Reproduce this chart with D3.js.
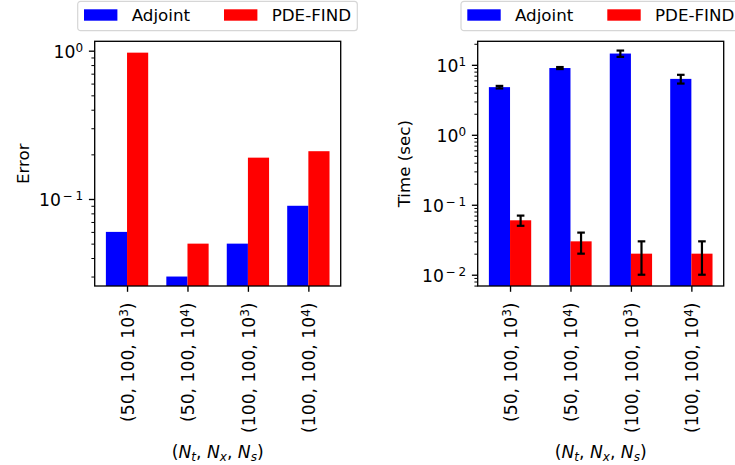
<!DOCTYPE html>
<html>
<head>
<meta charset="utf-8">
<script src="https://cdn.jsdelivr.net/npm/d3@7"></script>
<style>
  body { margin: 0; background: #fff; }
  text { font-family: "DejaVu Sans", sans-serif; fill: #000; }
</style>
</head>
<body>
<svg id="chart" width="735" height="465"></svg>
<script>
// values
var categories = ["(50, 100, 10^3)", "(50, 100, 10^4)", "(100, 100, 10^3)", "(100, 100, 10^4)"];
var seriesNames = ["Adjoint", "PDE-FIND"];
var seriesColors = ["#0000ff", "#ff0000"];
var errorAdjoint = [0.06, 0.03, 0.05, 0.09];
var errorPdeFind = [0.97, 0.05, 0.19, 0.21];
var timeAdjoint = [4.8, 9.0, 14.5, 6.3];
var timeAdjointErr = [0.2, 0.3, 1.5, 0.9];
var timePdeFind = [0.06, 0.03, 0.02, 0.02];
var timePdeFindErr = [0.01, 0.01, 0.01, 0.01];
var errorTickExps = [-1, 0];
var timeTickExps = [-2, -1, 0, 1];

var fs = 16.7, tfs = 17.2, supFs = 12, supShift = 5.8;
var svg = d3.select('#chart');

var supText = function(sel, pre, sup, post) {
  sel.text(null);
  sel.append('tspan').text(pre);
  if (sup.charAt(0) === '-') {
    // mathtext puts space around the minus
    sel.append('tspan').attr('font-size', supFs).attr('dy', -supShift).attr('dx', 1.5).text('\u2212');
    sel.append('tspan').attr('font-size', supFs).attr('dx', 3).text(sup.slice(1));
  } else {
    sel.append('tspan').attr('font-size', supFs).attr('dy', -supShift).text(sup);
  }
  if (post) sel.append('tspan').attr('font-size', tfs).attr('dy', supShift).text(post);
};

var minorTicks = function(domain) {
  var out = [], e, m;
  for (e = Math.floor(Math.log10(domain[0])); e <= Math.ceil(Math.log10(domain[1])); e++) {
    for (m = 2; m <= 9; m++) {
      var v = m * Math.pow(10, e);
      if (v >= domain[0] && v <= domain[1]) out.push(v);
    }
  }
  return out;
};

var drawPanel = function(opts) {
  var w = 246, h = 244.7;
  var g = svg.append('g').attr('transform', 'translate(' + opts.left + ',41.3)');
  var x = d3.scaleLinear().domain([-0.535, 3.535]).range([0, w]);
  var y = d3.scaleLog().domain(opts.domain).range([h, 0]);
  var bw = x(0.35) - x(0);

  // bars
  [opts.a, opts.b].forEach(function(vals, si) {
    g.selectAll('rect.s' + si).data(vals).enter().append('rect')
      .attr('x', function(d, i) { return x(i + (si ? 0 : -0.35)); })
      .attr('width', bw)
      .attr('y', function(d) { return y(d); })
      .attr('height', function(d) { return h - y(d); })
      .attr('fill', seriesColors[si]);
  });

  // error bars
  if (opts.aErr) {
    [[opts.a, opts.aErr, -0.175], [opts.b, opts.bErr, 0.175]].forEach(function(s) {
      s[0].forEach(function(v, i) {
        var cx = x(i + s[2]), y1 = y(v + s[1][i]), y0 = y(v - s[1][i]);
        var eg = g.append('g').attr('stroke', '#000').attr('stroke-width', 2.2);
        eg.append('line').attr('x1', cx).attr('x2', cx).attr('y1', y1).attr('y2', y0);
        eg.append('line').attr('x1', cx - 3.8).attr('x2', cx + 3.8).attr('y1', y1).attr('y2', y1);
        eg.append('line').attr('x1', cx - 3.8).attr('x2', cx + 3.8).attr('y1', y0).attr('y2', y0);
      });
    });
  }

  // y axis: minor then major
  g.append('g').attr('class', 'minor')
    .call(d3.axisLeft(y).tickValues(minorTicks(opts.domain)).tickSize(3.3).tickFormat(''))
    .call(function(s) { s.select('.domain').remove(); s.selectAll('line').attr('stroke-width', 1); });
  var yax = g.append('g')
    .call(d3.axisLeft(y).tickValues(opts.exps.map(function(e) { return Math.pow(10, e); }))
      .tickSize(5.8).tickPadding(5.8))
    .call(function(s) { s.select('.domain').remove(); s.selectAll('line').attr('stroke-width', 1.33); });
  yax.selectAll('.tick text')
    .attr('font-size', tfs).attr('dy', 6.6)
    .each(function(d) {
      var e = Math.round(Math.log10(d));
      supText(d3.select(this), '10', String(e));
    });

  // x axis
  var xax = g.append('g').attr('transform', 'translate(0,' + h + ')')
    .call(d3.axisBottom(x).tickValues([0, 1, 2, 3]).tickSize(5.8).tickFormat(''))
    .call(function(s) { s.select('.domain').remove(); s.selectAll('line').attr('stroke-width', 1.33); });
  xax.selectAll('.tick').each(function(d) {
    var parts = categories[d].split('^');
    var t = d3.select(this).append('text')
      .attr('transform', 'translate(6.5,16.5) rotate(-90)')
      .attr('text-anchor', 'end').attr('font-size', tfs);
    supText(t, parts[0], parts[1].charAt(0), parts[1].slice(1));
  });

  // frame
  g.append('rect').attr('width', w).attr('height', h)
    .attr('fill', 'none').attr('stroke', '#000').attr('stroke-width', 1.33);

  // axis titles
  g.append('text').attr('transform', 'translate(' + opts.ylabX + ',' + (h / 2) + ') rotate(-90)')
    .attr('text-anchor', 'middle').attr('font-size', fs).text(opts.ylabel);
  var xl = g.append('text').attr('x', w / 2).attr('y', 416.7).attr('text-anchor', 'middle').attr('font-size', tfs);
  xl.append('tspan').text('(');
  [['t', ', '], ['x', ', '], ['s', ')']].forEach(function(p) {
    xl.append('tspan').attr('font-style', 'italic').text('N');
    xl.append('tspan').attr('font-style', 'italic').attr('font-size', supFs).attr('dy', 3.5).text(p[0]);
    xl.append('tspan').attr('dy', -3.5).text(p[1]);
  });

  // legend
  var lg = svg.append('g').attr('transform', 'translate(' + opts.legX + ',1.3)');
  lg.append('rect').attr('width', 279.6).attr('height', 29.4).attr('rx', 3)
    .attr('fill', '#fff').attr('stroke', '#d6d6d6').attr('stroke-width', 1.2);
  seriesNames.forEach(function(n, i) {
    var lx = 6.3 + i * 140;
    lg.append('rect').attr('x', lx).attr('y', 8).attr('width', 33.4).attr('height', 11.4).attr('fill', seriesColors[i]);
    lg.append('text').attr('x', lx + 47.7).attr('y', 19.7).attr('font-size', fs).text(n);
  });
};

drawPanel({left: 94.7, domain: [0.0259, 1.157], a: errorAdjoint, b: errorPdeFind,
  exps: errorTickExps, ylabel: 'Error', ylabX: -66, legX: 77.7});
drawPanel({left: 477.7, domain: [0.0069, 21.7], a: timeAdjoint, b: timePdeFind,
  aErr: timeAdjointErr, bErr: timePdeFindErr,
  exps: timeTickExps, ylabel: 'Time (sec)', ylabX: -67.7, legX: 461});
</script>
</body>
</html>
